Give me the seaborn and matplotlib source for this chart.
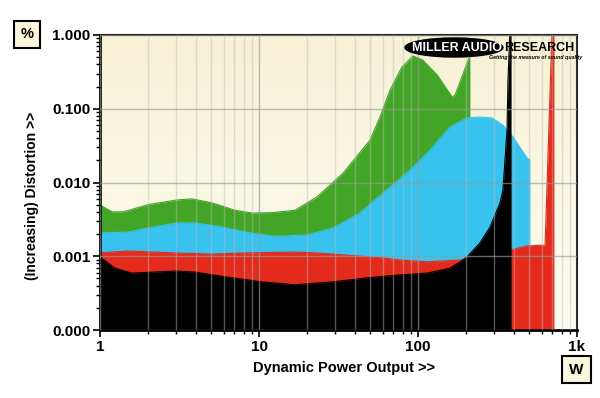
import numpy as np
import pandas as pd
import seaborn as sns
import matplotlib.pyplot as plt
from matplotlib.patches import Ellipse
from matplotlib.colors import LinearSegmentedColormap
from matplotlib.ticker import NullFormatter, LogLocator

# power (W) vs distortion (%), one pair per trace
green_w = [1.0, 1.19, 1.40, 2.0, 3.05, 3.79, 5.06, 7.07, 9.03, 12.1, 16.8, 23.2,
           33.8, 49.9, 57.7, 66.7, 79.3, 93, 107, 132, 164, 171, 212]
green_pct = [0.00495, 0.0040, 0.0040, 0.0050, 0.0058, 0.0060, 0.0053, 0.0042,
             0.00386, 0.0039, 0.0042, 0.0064, 0.0134, 0.0377, 0.0773, 0.18,
             0.368, 0.52, 0.458, 0.287, 0.144, 0.154, 0.52]

blue_w = [1.0, 1.5, 2.0, 3.05, 3.96, 5.85, 8.17, 12.1, 14.2, 20.0, 29.2, 43.2,
          60.2, 89.1, 119, 159, 203, 245, 292, 342, 396, 485, 506]
blue_pct = [0.00207, 0.00213, 0.00242, 0.00283, 0.00283, 0.00249, 0.00213,
            0.00188, 0.00188, 0.00194, 0.00242, 0.00386, 0.0072, 0.0148,
            0.0276, 0.0566, 0.075, 0.0773, 0.075, 0.060, 0.0414, 0.0215, 0.0202]

red_w = [1.0, 1.5, 2.96, 5.06, 8.17, 16.8, 23.2, 60.2, 77.1, 114, 184, 203,
         300, 380, 385, 485, 630, 697, 716]
red_pct = [0.00111, 0.00118, 0.00111, 0.00107, 0.00111, 0.00114, 0.00111,
           0.00095, 0.00089, 0.00084, 0.00089, 0.00090, 0.0010, 0.00115,
           0.00122, 0.00138, 0.00142, 1.2, 1.2]

black_w = [1.0, 1.24, 1.59, 2.96, 3.96, 6.38, 10.4, 16.8, 29.2, 47.8, 77.1, 114,
           159, 184, 203, 245, 284, 328, 342, 363, 368, 379, 385]
black_pct = [0.00098, 0.00069, 0.00059, 0.00063, 0.00061, 0.00052, 0.00045,
             0.00041, 0.00045, 0.00051, 0.00056, 0.00059, 0.00069, 0.00084,
             0.00098, 0.00151, 0.0025, 0.0053, 0.0079, 0.0515, 0.245, 1.2, 1.2]

x_ticks = [1, 10, 100, 1000]
x_labels = ['1', '10', '100', '1k']
y_ticks = [1e-4, 1e-3, 1e-2, 1e-1, 1]
y_labels = ['0.000', '0.001', '0.010', '0.100', '1.000']

traces = [
    (green_w, green_pct, '#43a526'),
    (blue_w, blue_pct, '#37c3ee'),
    (red_w, red_pct, '#e42a1b'),
    (black_w, black_pct, '#000000'),
]

sns.set_style('white')
plt.rcParams['font.family'] = ['Liberation Sans', 'DejaVu Sans']
plt.rcParams['font.weight'] = 'bold'
for key in ['text.color', 'axes.labelcolor', 'xtick.color', 'ytick.color']:
    plt.rcParams[key] = 'black'

fig = plt.figure(figsize=(6, 3.98), dpi=100)
pos = [100 / 600, 1 - 330 / 398, 477 / 600, 295 / 398]

# cream gradient behind the plot area
bg = fig.add_axes(pos, zorder=-1)
cream = LinearSegmentedColormap.from_list('cream', ['#fdfcf2', '#f7f2d5'])
bg.imshow(np.linspace(0, 1, 256).reshape(-1, 1), aspect='auto', cmap=cream,
          origin='lower', extent=[0, 1, 0, 1])
bg.axis('off')

ax = fig.add_axes(pos)
ax.set_facecolor('none')
ax.set_xscale('log')
ax.set_yscale('log')

for w, pct, col in traces:
    df = pd.DataFrame({'w': w, 'pct': pct})
    ax.fill_between(df['w'], 1e-5, df['pct'], color=col, lw=0, zorder=1)
    sns.lineplot(data=df, x='w', y='pct', color=col, lw=0.8, ax=ax,
                 estimator=None, sort=False, zorder=1)

ax.set_xlim(1, 1000)
ax.set_ylim(1e-4, 1)

ax.set_xticks(x_ticks, labels=x_labels)
ax.set_yticks(y_ticks, labels=y_labels)
ax.xaxis.set_minor_locator(LogLocator(subs=np.arange(2, 10)))
ax.yaxis.set_minor_locator(LogLocator(subs=np.arange(2, 10)))
ax.xaxis.set_minor_formatter(NullFormatter())
ax.yaxis.set_minor_formatter(NullFormatter())
ax.tick_params(which='both', bottom=True, left=True, top=False, right=False)
ax.tick_params(which='major', direction='out', length=5, width=1.2,
               color='black', labelsize=11, pad=2)
ax.tick_params(which='minor', direction='out', length=3, width=1,
               color='black')
for lab in ax.get_xticklabels() + ax.get_yticklabels():
    lab.set_fontweight('bold')

ax.set_axisbelow(False)
ax.grid(True, which='major', axis='both', color='#999999', lw=1, alpha=0.65)
ax.grid(True, which='minor', axis='x', color='#bbbbbb', lw=1, alpha=0.45)

for side in ['left', 'bottom']:
    ax.spines[side].set_linewidth(2)
    ax.spines[side].set_color('black')
for side in ['top', 'right']:
    ax.spines[side].set_linewidth(1.5)
    ax.spines[side].set_color('#222222')

ax.set_xlabel('Dynamic Power Output >>', fontsize=10.5, fontweight='bold')
ax.set_ylabel('(Increasing) Distortion >>', fontsize=10, fontweight='bold')
ax.xaxis.label.set_va('center')
ax.yaxis.label.set_va('center')
ax.xaxis.set_label_coords(0.512, -0.129)
ax.yaxis.set_label_coords(-0.142, 0.454)

# unit boxes
box = dict(boxstyle='square,pad=0.45', facecolor='#faf6dc', edgecolor='black', lw=1.5)
fig.text(27 / 600, 1 - 34.5 / 398, '%', fontsize=10.5, fontweight='bold',
         ha='center', va='center', bbox=box)
fig.text(576.5 / 600, 1 - 369.5 / 398, 'W', fontsize=11, fontweight='bold',
         ha='center', va='center', bbox=box)

# logo
fig.add_artist(Ellipse((454 / 600, 1 - 47.5 / 398), 98 / 600, 19 / 398,
                       transform=fig.transFigure, color='black'))
fig.text(457 / 600, 1 - 48 / 398, 'MILLER AUDIO', color='white', fontsize=9,
         fontweight='heavy', ha='center', va='center')
fig.text(539 / 600, 1 - 48 / 398, 'RESEARCH', color='black', fontsize=9,
         fontweight='heavy', ha='center', va='center')
fig.text(536 / 600, 1 - 57.5 / 398, 'Getting the measure of sound quality',
         color='black', fontsize=3.8, fontweight='bold', style='italic',
         ha='center', va='center')

fig.savefig('out.png', dpi=100)
